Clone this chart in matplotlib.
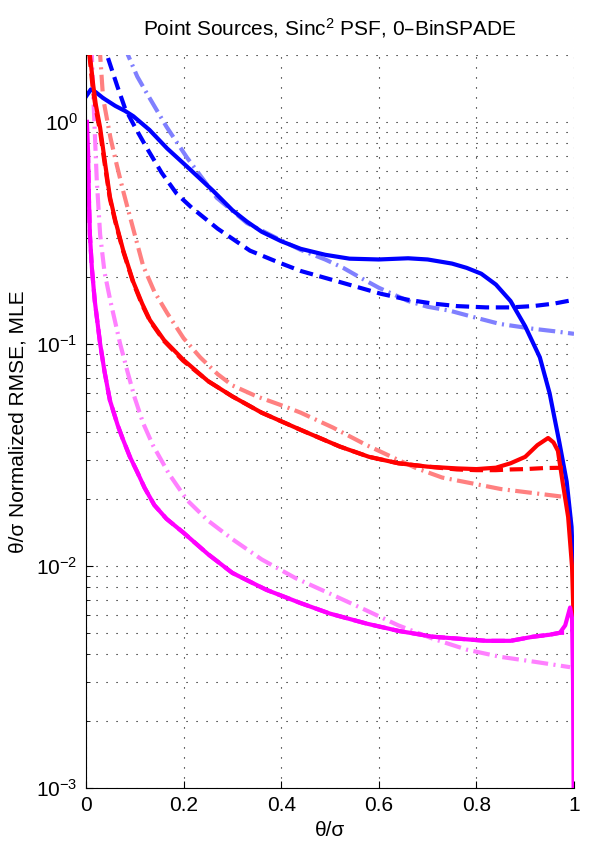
import numpy as np
import matplotlib
matplotlib.use("Agg")
import matplotlib.pyplot as plt
from matplotlib.ticker import FixedLocator, FuncFormatter, LogLocator, NullFormatter

plt.rcParams["font.family"] = ["Liberation Sans", "DejaVu Sans"]
plt.rcParams["mathtext.default"] = "regular"

# ---- data (x = theta/sigma, y = normalized RMSE) ----
blue_x = [0.0, 0.01, 0.02, 0.035, 0.06, 0.08, 0.097, 0.13, 0.166, 0.21, 0.26, 0.30, 0.33,
          0.36, 0.40, 0.44, 0.49, 0.54, 0.60, 0.66, 0.70, 0.75, 0.78, 0.81, 0.84, 0.87, 0.90,
          0.93, 0.95, 0.97, 0.985, 0.995, 1.0]
blue_y = [1.30, 1.40, 1.36, 1.28, 1.18, 1.12, 1.06, 0.92, 0.76, 0.62, 0.49, 0.40, 0.355,
          0.32, 0.29, 0.268, 0.252, 0.242, 0.24, 0.243, 0.24, 0.23, 0.22, 0.207, 0.185, 0.156,
          0.12, 0.087, 0.06, 0.036, 0.024, 0.015, 0.0077]

blue_dash_x = [0.02, 0.043, 0.064, 0.08, 0.10, 0.125, 0.155, 0.186, 0.217, 0.27, 0.336, 0.39,
               0.44, 0.52, 0.605, 0.66, 0.71, 0.76, 0.82, 0.87, 0.916, 0.96, 1.0]
blue_dash_y = [4.0, 2.0, 1.45, 1.15, 0.95, 0.76, 0.59, 0.474, 0.41, 0.33, 0.263, 0.235,
               0.213, 0.19, 0.168, 0.158, 0.152, 0.148, 0.146, 0.146, 0.148, 0.152, 0.158]

blue_light_x = [0.06, 0.086, 0.105, 0.125, 0.165, 0.207, 0.268, 0.33, 0.39, 0.44, 0.49, 0.527,
                0.56, 0.60, 0.66, 0.70, 0.746, 0.80, 0.848, 0.916, 0.96, 1.0]
blue_light_y = [3.0, 2.0, 1.6, 1.34, 0.95, 0.69, 0.455, 0.35, 0.30, 0.265, 0.24, 0.22,
                0.20, 0.179, 0.156, 0.147, 0.141, 0.131, 0.123, 0.117, 0.114, 0.111]

red_x = [0.006, 0.008, 0.015, 0.02, 0.029, 0.04, 0.049, 0.06, 0.076, 0.097, 0.115, 0.131,
         0.16, 0.199, 0.25, 0.30, 0.36, 0.44, 0.52, 0.58, 0.64, 0.70, 0.76, 0.80, 0.84,
         0.87, 0.90, 0.925, 0.947, 0.958, 0.967, 0.977, 0.988, 0.996, 1.0]
red_y = [2.5, 2.0, 1.45, 1.2, 0.94, 0.63, 0.46, 0.36, 0.265, 0.19, 0.152, 0.128,
         0.104, 0.085, 0.068, 0.058, 0.049, 0.041, 0.0345, 0.031, 0.029, 0.028, 0.0275,
         0.0273, 0.0277, 0.029, 0.031, 0.035, 0.0377, 0.036, 0.033, 0.0236, 0.0166,
         0.0099, 0.005]

red_dash_x = [0.005, 0.007, 0.014, 0.02, 0.029, 0.04, 0.049, 0.06, 0.076, 0.097, 0.115,
              0.131, 0.16, 0.199, 0.25, 0.30, 0.36, 0.44, 0.52, 0.58, 0.64, 0.70, 0.76,
              0.80, 0.84, 0.87, 0.90, 0.94, 0.985]
red_dash_y = [2.5, 2.0, 1.4, 1.15, 0.9, 0.61, 0.45, 0.355, 0.262, 0.188, 0.15, 0.127,
              0.103, 0.084, 0.068, 0.058, 0.049, 0.041, 0.0345, 0.031, 0.029, 0.028,
              0.0272, 0.027, 0.027, 0.0272, 0.0273, 0.0276, 0.0277]

red_light_x = [0.02, 0.029, 0.035, 0.05, 0.063, 0.076, 0.084, 0.10, 0.117, 0.14, 0.166, 0.20,
               0.234, 0.27, 0.30, 0.35, 0.41, 0.44, 0.506, 0.575, 0.60, 0.64, 0.678, 0.73,
               0.793, 0.85, 0.916, 0.985]
red_light_y = [3.0, 2.0, 1.28, 0.85, 0.64, 0.49, 0.42, 0.31, 0.225, 0.172, 0.138, 0.106,
               0.087, 0.073, 0.065, 0.058, 0.052, 0.049, 0.042, 0.035, 0.033, 0.03, 0.0275,
               0.025, 0.0235, 0.0222, 0.0213, 0.0204]

mag_x = [0.002, 0.004, 0.006, 0.008, 0.012, 0.018, 0.029, 0.038, 0.049, 0.065, 0.075, 0.09,
         0.105, 0.12, 0.14, 0.165, 0.20, 0.25, 0.30, 0.37, 0.44, 0.50, 0.575, 0.64, 0.711,
         0.82, 0.87, 0.916, 0.95, 0.971, 0.982, 0.992, 0.996, 0.998, 1.0]
mag_y = [1.0, 0.75, 0.45, 0.31, 0.22, 0.156, 0.10, 0.075, 0.0557, 0.043, 0.0375, 0.031,
         0.0265, 0.0225, 0.0188, 0.0163, 0.0141, 0.0113, 0.0093, 0.0078, 0.0068, 0.0061,
         0.0055, 0.0051, 0.0048, 0.0046, 0.0046, 0.0048, 0.0049, 0.005, 0.0054, 0.0065,
         0.0058, 0.003, 0.0005]

mag_dash_x = [0.004, 0.006, 0.008, 0.012, 0.018, 0.029, 0.038, 0.049, 0.065, 0.075, 0.09,
              0.105, 0.12, 0.14, 0.165, 0.20, 0.25, 0.30, 0.37, 0.44, 0.50, 0.575, 0.64,
              0.711, 0.82, 0.87, 0.916, 0.95, 0.971, 0.985, 0.998]
mag_dash_y = [0.75, 0.45, 0.31, 0.22, 0.156, 0.10, 0.075, 0.0557, 0.043, 0.0375, 0.031,
              0.0265, 0.0225, 0.0188, 0.0163, 0.0141, 0.0113, 0.0093, 0.0078, 0.0068,
              0.0061, 0.0055, 0.0051, 0.0048, 0.0046, 0.0046, 0.0048, 0.0049, 0.005,
              0.005, 0.0051]

mag_light_x = [0.01, 0.012, 0.015, 0.018, 0.022, 0.029, 0.038, 0.05, 0.07, 0.085, 0.10,
               0.117, 0.137, 0.17, 0.207, 0.25, 0.30, 0.36, 0.43, 0.50, 0.575, 0.64, 0.711,
               0.78, 0.848, 0.92, 0.992]
mag_light_y = [3.0, 2.0, 1.3, 0.9, 0.55, 0.31, 0.21, 0.156, 0.10, 0.075, 0.057, 0.044,
               0.035, 0.026, 0.0198, 0.016, 0.0132, 0.0107, 0.0088, 0.0075, 0.0063, 0.0054,
               0.0047, 0.0042, 0.0039, 0.0037, 0.0035]

x_ticks = [0, 0.2, 0.4, 0.6, 0.8, 1]
x_tick_labels = ["0", "0.2", "0.4", "0.6", "0.8", "1"]

# ---- figure ----
fig = plt.figure(figsize=(5.9, 8.5), dpi=100)
ax = fig.add_axes([86 / 590, 62 / 850, 488 / 590, 733 / 850])

lw = 3.0
dash = (3.2, 1.6)
dashdot = (4.0, 1.3, 0.5, 1.3)

ax.plot(blue_light_x, blue_light_y, color="#8080ff", lw=lw, dashes=dashdot)
ax.plot(red_light_x, red_light_y, color="#ff8080", lw=lw, dashes=dashdot)
ax.plot(mag_light_x, mag_light_y, color="#ff80ff", lw=lw, dashes=dashdot)

ax.plot(blue_dash_x, blue_dash_y, color="#0000ff", lw=lw, dashes=dash)
ax.plot(blue_x, blue_y, color="#0000ff", lw=lw)
ax.plot(red_dash_x, red_dash_y, color="#ff0000", lw=lw, dashes=dash)
ax.plot(red_x, red_y, color="#ff0000", lw=lw)
ax.plot(mag_dash_x, mag_dash_y, color="#ff00ff", lw=lw, dashes=dash)
ax.plot(mag_x, mag_y, color="#ff00ff", lw=lw)

ax.set_yscale("log")
ax.set_xlim(0, 1)
ax.set_ylim(1e-3, 2)

ax.xaxis.set_major_locator(FixedLocator(x_ticks))
ax.set_xticklabels(x_tick_labels)
ax.yaxis.set_major_locator(LogLocator(base=10, numticks=10))
ax.yaxis.set_minor_locator(LogLocator(base=10, subs=np.arange(2, 10), numticks=20))
ax.yaxis.set_minor_formatter(NullFormatter())
ax.yaxis.set_major_formatter(FuncFormatter(lambda v, p: r"$10^{%d}$" % round(np.log10(v))))

ax.grid(True, which="major", color="k", lw=0.8, dashes=(1, 8))
ax.grid(True, which="minor", axis="y", color="k", lw=0.8, dashes=(1, 8))

for s in ["top", "right"]:
    ax.spines[s].set_visible(False)
ax.spines["left"].set_linewidth(0.8)
ax.spines["bottom"].set_linewidth(0.8)
ax.tick_params(which="both", direction="in", labelsize=15, top=False, right=False)
ax.tick_params(which="major", length=5, pad=6)
ax.tick_params(which="minor", length=3)

ax.set_title(r"Point Sources, Sinc$^2$ PSF, 0–BinSPADE", fontsize=15, pad=14)
ax.set_xlabel("θ/σ", fontsize=15, labelpad=4)
ax.set_ylabel("θ/σ Normalized RMSE, MLE", fontsize=15, labelpad=6)

fig.savefig("out.png", dpi=100)
